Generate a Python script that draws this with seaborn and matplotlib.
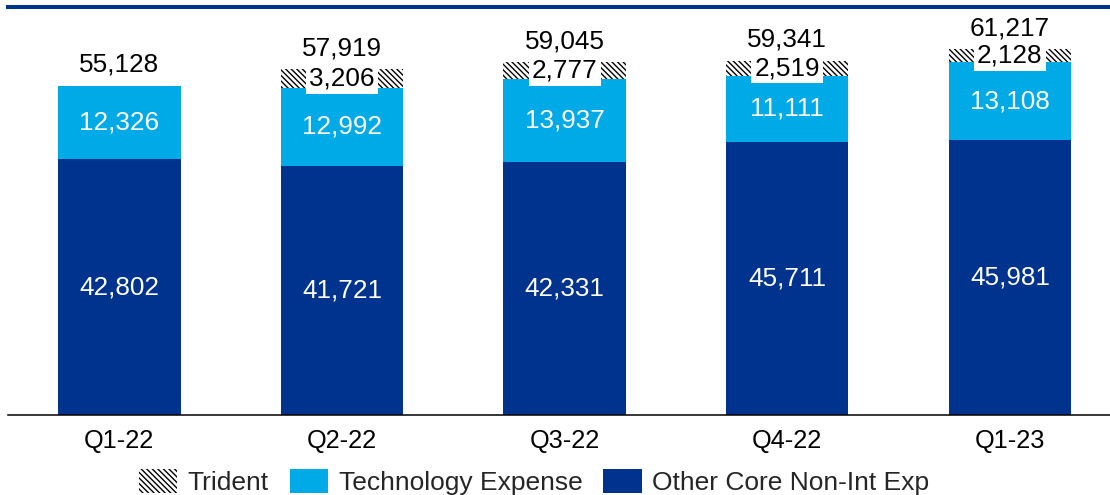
import matplotlib
matplotlib.use("Agg")
import matplotlib.pyplot as plt
from matplotlib.patches import Patch
import seaborn as sns
import pandas as pd

quarters = ["Q1-22", "Q2-22", "Q3-22", "Q4-22", "Q1-23"]
other_core = [42802, 41721, 42331, 45711, 45981]
technology = [12326, 12992, 13937, 11111, 13108]
trident = [0, 3206, 2777, 2519, 2128]
totals = [55128, 57919, 59045, 59341, 61217]
series_names = ["Trident", "Technology Expense", "Other Core Non-Int Exp"]

DARK = "#00338D"
LIGHT = "#00AAE6"
HATCH = "\\" * 6

sns.set_theme(style="white")
plt.rcParams["font.family"] = ["Liberation Sans", "DejaVu Sans"]
plt.rcParams["hatch.linewidth"] = 1.0

df = pd.DataFrame({
    "quarter": quarters,
    "other": other_core,
    "tech": technology,
    "trident": trident,
    "total": totals,
})
df["tech_top"] = df["other"] + df["tech"]
df["trident_top"] = df["tech_top"] + df["trident"]

fig = plt.figure(figsize=(11.1, 4.95), dpi=100)
ax = fig.add_axes([8 / 1110, 80 / 495, 1 - 8 / 1110, (495 - 80 - 7) / 495])

W = 0.55
# Layers drawn back to front: full stack (hatched), tech + other, other
sns.barplot(data=df, x="quarter", y="trident_top", color="white", saturation=1,
            width=W, hatch=HATCH, edgecolor="black", linewidth=0, ax=ax)
sns.barplot(data=df, x="quarter", y="tech_top", color=LIGHT, saturation=1,
            width=W, linewidth=0, ax=ax)
sns.barplot(data=df, x="quarter", y="other", color=DARK, saturation=1,
            width=W, linewidth=0, ax=ax)

FS = 18.8
for i, row in df.iterrows():
    ax.text(i, row["other"] / 2, f"{row['other']:,}", ha="center", va="center",
            color="white", fontsize=FS)
    ax.text(i, row["other"] + row["tech"] / 2, f"{row['tech']:,}", ha="center",
            va="center", color="white", fontsize=FS)
    if row["trident"] > 0:
        ax.text(i, row["tech_top"] + row["trident"] / 2, f"{row['trident']:,}",
                ha="center", va="center", color="black", fontsize=FS,
                bbox=dict(boxstyle="square,pad=0.12", facecolor="white",
                          edgecolor="none"))
    ax.annotate(f"{row['total']:,}", xy=(i, row["trident_top"]),
                xytext=(0, 15), textcoords="offset points",
                ha="center", va="center", color="black", fontsize=FS)

ax.set_xlim(-0.5, 4.45)
ax.set_ylim(0, 68300)
ax.set_xlabel("")
ax.set_ylabel("")
ax.set_yticks([])
ax.tick_params(axis="x", length=0, pad=10, labelsize=18.3, colors="black")

for side in ("left", "right"):
    ax.spines[side].set_visible(False)
ax.spines["bottom"].set_color("black")
ax.spines["bottom"].set_linewidth(1.1)
ax.spines["top"].set_color(DARK)
ax.spines["top"].set_linewidth(2.9)

handles = [
    Patch(facecolor="white", hatch=HATCH, edgecolor="black", linewidth=0),
    Patch(facecolor=LIGHT, edgecolor="none"),
    Patch(facecolor=DARK, edgecolor="none"),
]
fig.legend(handles, series_names, loc="center", bbox_to_anchor=(534 / 1110, 1 - 482 / 495),
           ncol=3, frameon=False, fontsize=19, handlelength=1.45, handleheight=1.05,
           handletextpad=0.4, columnspacing=0.8, borderpad=0, borderaxespad=0)

fig.savefig("out.png", dpi=100)
